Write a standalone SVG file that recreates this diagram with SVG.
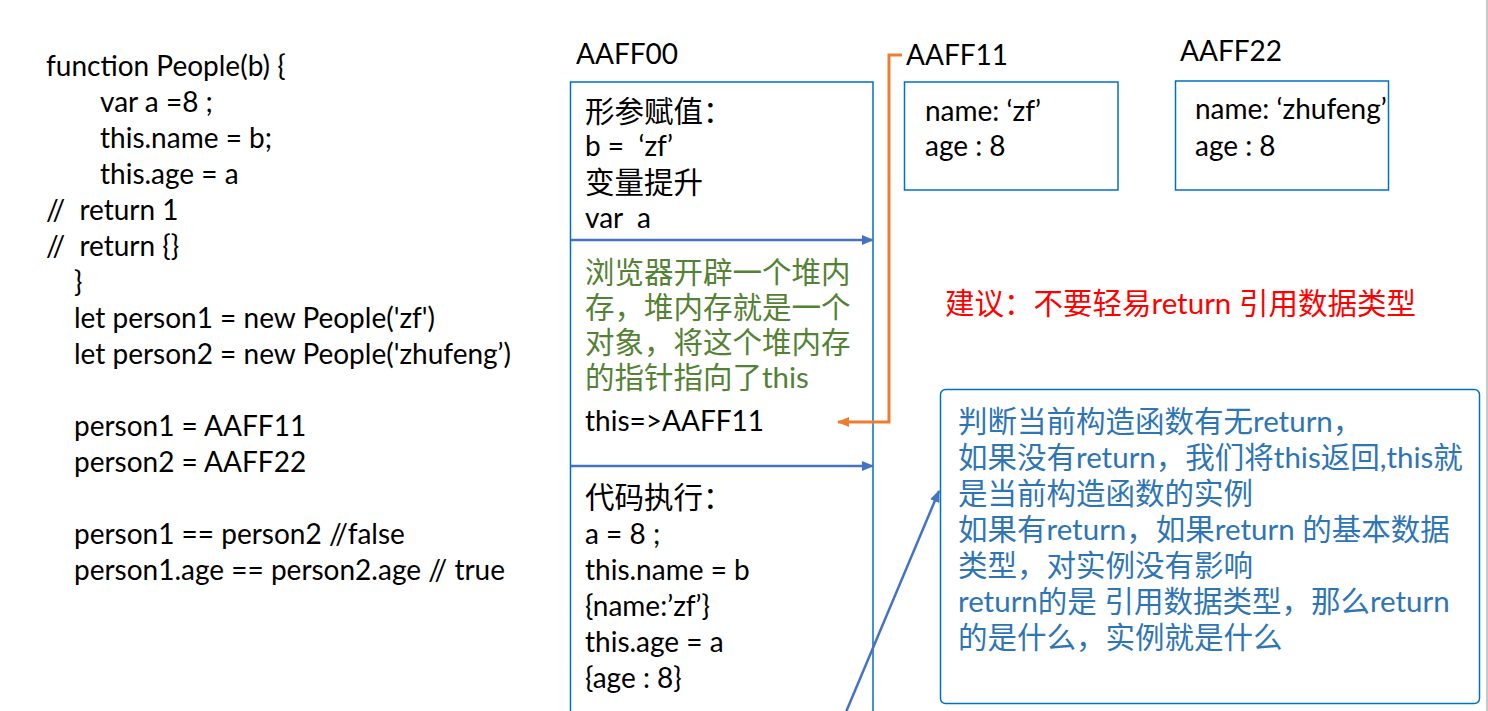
<svg xmlns="http://www.w3.org/2000/svg" width="1488" height="711" viewBox="0 0 1488 711">
<style>
text{font-family:Lato,"Noto Sans CJK SC",sans-serif;font-size:28px;fill:#000;white-space:pre}
.c{font-size:29.5px}
.g{fill:#548235}
.r{fill:#FF0000}
.b{fill:#2E75B6}
.box{fill:none;stroke:#0070C0;stroke-width:1.5}
</style>
<defs>
<marker id="ab" markerUnits="userSpaceOnUse" markerWidth="12" markerHeight="10" refX="11" refY="5" orient="auto"><path d="M0,0 L12,5 L0,10 Z" fill="#4472C4"/></marker>
<marker id="ao" markerUnits="userSpaceOnUse" markerWidth="12" markerHeight="10" refX="11" refY="5" orient="auto"><path d="M0,0 L12,5 L0,10 Z" fill="#ED7D31"/></marker>
</defs>
<rect width="1488" height="711" fill="#fff"/>
<line x1="1487" y1="0" x2="1487" y2="711" stroke="#c8c8c8" stroke-width="2"/>
<g id="code">
<text x="46" y="76">function People(b) {</text>
<text x="100" y="112">var a =8 ;</text>
<text x="100" y="148">this.name = b;</text>
<text x="100" y="184">this.age = a</text>
<text x="46" y="220">//  return 1</text>
<text x="46" y="256">//  return {}</text>
<text x="74" y="292">}</text>
<text x="74" y="328">let person1 = new People('zf')</text>
<text x="74" y="364">let person2 = new People('zhufeng’)</text>
<text x="74" y="436">person1 = AAFF11</text>
<text x="74" y="472">person2 = AAFF22</text>
<text x="74" y="544">person1 == person2 //false</text>
<text x="74" y="580">person1.age == person2.age // true</text>
</g>
<g id="aaff00">
<text x="576" y="64">AAFF00</text>
<rect class="box" x="570.5" y="82" width="302.5" height="640"/>
<text class="c" x="585" y="122">形参赋值：</text>
<text x="585" y="156">b =  ‘zf’</text>
<text class="c" x="585" y="193">变量提升</text>
<text x="585" y="228">var  a</text>
<text class="c g" x="585" y="283">浏览器开辟一个堆内</text>
<text class="c g" x="585" y="318">存，堆内存就是一个</text>
<text class="c g" x="585" y="353">对象，将这个堆内存</text>
<text class="c g" x="585" y="388">的指针指向了this</text>
<text x="585" y="431">this=&gt;AAFF11</text>
<text class="c" x="585" y="508">代码执行：</text>
<text x="585" y="544">a = 8 ;</text>
<text x="585" y="580">this.name = b</text>
<text x="585" y="616">{name:’zf’}</text>
<text x="585" y="652">this.age = a</text>
<text x="585" y="688">{age : 8}</text>
</g>
<g id="aaff11">
<text x="906" y="65">AAFF11</text>
<rect class="box" x="904.5" y="82" width="213.5" height="108"/>
<text x="925" y="121">name: ‘zf’</text>
<text x="925" y="156">age : 8</text>
</g>
<g id="aaff22">
<text x="1180" y="61">AAFF22</text>
<rect class="box" x="1175.5" y="81" width="213" height="109"/>
<text x="1195" y="119">name: ‘zhufeng’</text>
<text x="1195" y="156">age : 8</text>
</g>
<g id="advice">
<text class="c r" x="945" y="314">建议：不要轻易return 引用数据类型</text>
</g>
<g id="note">
<rect class="box" x="940.5" y="389.5" width="539" height="314" rx="5"/>
<text class="c b" x="958" y="432">判断当前构造函数有无return，</text>
<text class="c b" x="958" y="468">如果没有return，我们将this返回,this就</text>
<text class="c b" x="958" y="504">是当前构造函数的实例</text>
<text class="c b" x="958" y="540">如果有return，如果return 的基本数据</text>
<text class="c b" x="958" y="576">类型，对实例没有影响</text>
<text class="c b" x="958" y="612">return的是 引用数据类型，那么return</text>
<text class="c b" x="958" y="648">的是什么，实例就是什么</text>
</g>
<g id="connectors" fill="none">
<line x1="571" y1="240" x2="873" y2="240" stroke="#4472C4" stroke-width="2.5" marker-end="url(#ab)"/>
<line x1="571" y1="466" x2="873" y2="466" stroke="#4472C4" stroke-width="2.5" marker-end="url(#ab)"/>
<line x1="846" y1="712" x2="939" y2="491" stroke="#4472C4" stroke-width="2.5" marker-end="url(#ab)"/>
<polyline points="902,55 889,55 889,422 838,422" stroke="#ED7D31" stroke-width="3" marker-end="url(#ao)"/>
</g>
</svg>
